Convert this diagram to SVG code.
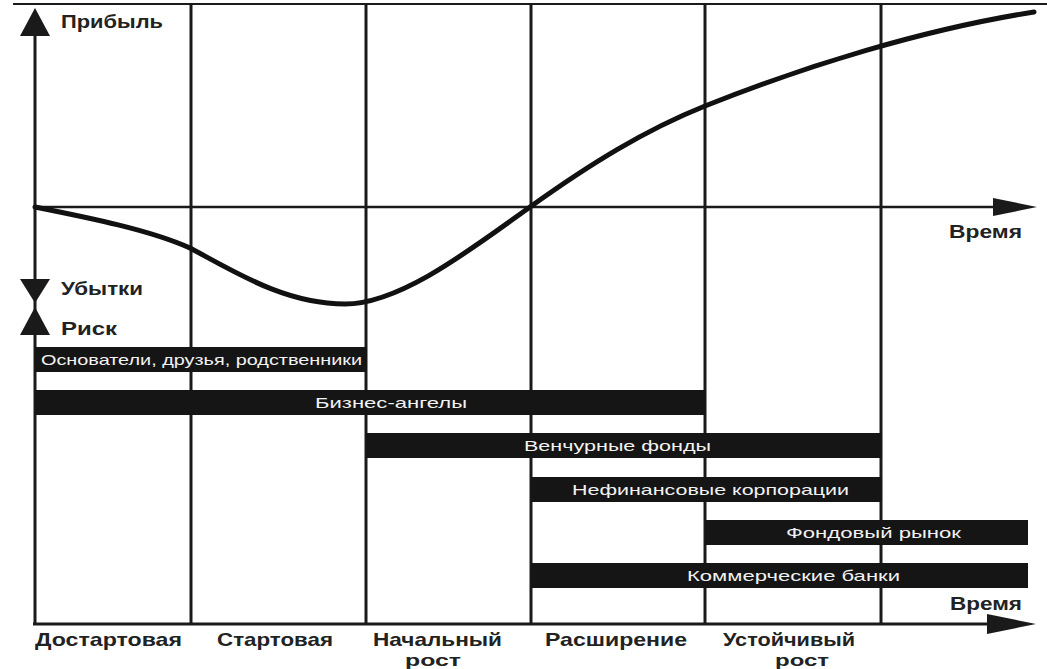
<svg xmlns="http://www.w3.org/2000/svg" width="1047" height="669" viewBox="0 0 1047 669">
<style>
.grid{stroke:#1a1a1a;stroke-width:3;fill:none}
.axis{stroke:#1a1a1a;stroke-width:3;fill:none}
.head{fill:#1a1a1a}
.curve{stroke:#111;stroke-width:5;fill:none;stroke-linecap:round}
.bar{fill:#151515}
.bt{font-family:"Liberation Sans",Arial,sans-serif;font-size:15px;fill:#f2f2f2;text-anchor:middle}
.lbl{font-family:"Liberation Sans",Arial,sans-serif;font-weight:bold;font-size:19px;fill:#222}
</style>
<rect width="1047" height="669" fill="#fff"/>
<g id="grid">
<line class="grid" x1="13" y1="4" x2="1047" y2="4" style="stroke-width:2"/>
<line class="grid" x1="191" y1="4" x2="191" y2="624"/>
<line class="grid" x1="366" y1="4" x2="366" y2="624"/>
<line class="grid" x1="531" y1="4" x2="531" y2="624"/>
<line class="grid" x1="705" y1="4" x2="705" y2="624"/>
<line class="grid" x1="881" y1="4" x2="881" y2="624"/>
</g>
<g id="axes">
<line class="axis" x1="35" y1="20" x2="35" y2="625"/>
<line class="axis" x1="35" y1="207" x2="1000" y2="207" style="stroke-width:2.5"/>
<line class="axis" x1="33" y1="624" x2="995" y2="624"/>
<polygon class="head" points="35,8 20,36 50,36"/>
<polygon class="head" points="20,279 50,279 35,303"/>
<polygon class="head" points="35,307 20,335 50,335"/>
<polygon class="head" points="993,198 1037,207 993,216"/>
<polygon class="head" points="987,614 1036,624 987,634"/>
</g>
<g id="curve">
<path class="curve" d="M35,207 C90,218 150,230 190,248 C235,272 285,304 345,304 C400,304 470,250 530,207 C590,164 645,130 705,106 C805,66 925,29 1034,12"/>
</g>
<g id="bars">
<g id="bar-founders"><rect class="bar" x="35" y="347" width="332" height="25"/><text class="bt" x="201.5" y="365" textLength="321" lengthAdjust="spacingAndGlyphs">Основатели, друзья, родственники</text></g>
<g id="bar-angels"><rect class="bar" x="35" y="390" width="671" height="25"/><text class="bt" x="391" y="408" textLength="152" lengthAdjust="spacingAndGlyphs">Бизнес-ангелы</text></g>
<g id="bar-venture"><rect class="bar" x="366" y="433" width="516" height="25"/><text class="bt" x="617.5" y="451" textLength="187" lengthAdjust="spacingAndGlyphs">Венчурные фонды</text></g>
<g id="bar-corp"><rect class="bar" x="531" y="477" width="351" height="25"/><text class="bt" x="710.5" y="495" textLength="277" lengthAdjust="spacingAndGlyphs">Нефинансовые корпорации</text></g>
<g id="bar-stock"><rect class="bar" x="705" y="520" width="323" height="25"/><text class="bt" x="873.5" y="538" textLength="175" lengthAdjust="spacingAndGlyphs">Фондовый рынок</text></g>
<g id="bar-banks"><rect class="bar" x="531" y="563" width="497" height="25"/><text class="bt" x="793.5" y="581" textLength="213" lengthAdjust="spacingAndGlyphs">Коммерческие банки</text></g>
</g>
<g id="labels">
<text class="lbl" x="61" y="28" textLength="102" lengthAdjust="spacingAndGlyphs" style="font-size:18px">Прибыль</text>
<text class="lbl" x="61" y="295" textLength="82" lengthAdjust="spacingAndGlyphs" style="font-size:18px">Убытки</text>
<text class="lbl" x="61" y="335" textLength="56" lengthAdjust="spacingAndGlyphs" style="font-size:18px">Риск</text>
<text class="lbl" x="949" y="238" textLength="73" lengthAdjust="spacingAndGlyphs" style="font-size:18px">Время</text>
<text class="lbl" x="950" y="610" textLength="72" lengthAdjust="spacingAndGlyphs" style="font-size:18px">Время</text>
<text class="lbl" x="35" y="646" textLength="147" lengthAdjust="spacingAndGlyphs">Достартовая</text>
<text class="lbl" x="217" y="646" textLength="116" lengthAdjust="spacingAndGlyphs">Стартовая</text>
<text class="lbl" x="373" y="646" textLength="129" lengthAdjust="spacingAndGlyphs">Начальный</text>
<text class="lbl" x="405" y="666" textLength="56" lengthAdjust="spacingAndGlyphs" style="font-size:17px">рост</text>
<text class="lbl" x="545" y="646" textLength="142" lengthAdjust="spacingAndGlyphs">Расширение</text>
<text class="lbl" x="723" y="646" textLength="132" lengthAdjust="spacingAndGlyphs">Устойчивый</text>
<text class="lbl" x="775" y="666" textLength="54" lengthAdjust="spacingAndGlyphs" style="font-size:17px">рост</text>
</g>
</svg>
